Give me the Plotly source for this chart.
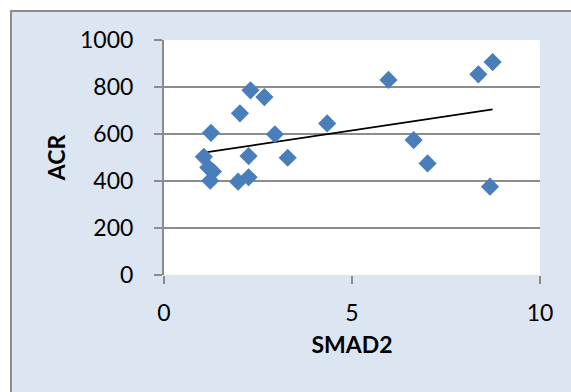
import numpy as np
import plotly.graph_objects as go

smad2 = [1.06, 1.25, 1.18, 1.30, 1.23, 1.97, 2.25, 2.25, 2.02, 2.30, 2.67, 2.95, 3.29, 4.34,
         5.97, 8.36, 8.74, 6.64, 7.01, 8.67]
acr = [503, 605, 457, 440, 401, 397, 416, 506, 688, 786, 757, 599, 499, 645,
       830, 854, 906, 574, 475, 376]
x_ticks = [0, 5, 10]
y_ticks = [0, 200, 400, 600, 800, 1000]

xs = np.array(smad2)
ys = np.array(acr)
slope, intercept = np.polyfit(xs, ys, 1)
trend_x = [xs.min(), xs.max()]
trend_y = [slope * v + intercept for v in trend_x]

FONT = "Lato"
fig = go.Figure()
fig.add_trace(go.Scatter(x=trend_x, y=trend_y, mode="lines",
                         line=dict(color="black", width=1.6), hoverinfo="skip"))
fig.add_trace(go.Scatter(x=smad2, y=acr, mode="markers",
                         marker=dict(symbol="diamond", size=14, color="#4A7EBB",
                                     line=dict(width=0))))

L, R, T, B = 164, 31, 40, 117
W, H = 571, 392
pw, ph = W - L - R, H - T - B

fig.add_shape(type="rect", xref="paper", yref="paper", layer="below",
              x0=(11 - L) / pw, x1=(W + 10 - L) / pw,
              y0=-(H + 10 - (H - B)) / ph, y1=(H - B - 11) / ph,
              fillcolor="#DCE6F2", line=dict(color="#8C8C8C", width=2))
fig.add_shape(type="rect", xref="paper", yref="paper", layer="below",
              x0=0, x1=1, y0=0, y1=1, fillcolor="white", line=dict(width=0))

fig.update_layout(
    width=W, height=H, margin=dict(l=L, r=R, t=T, b=B),
    paper_bgcolor="white", plot_bgcolor="rgba(0,0,0,0)",
    showlegend=False,
    font=dict(family=FONT, size=23, color="black"),
)
fig.update_xaxes(range=[0, 10], tickvals=x_ticks, showgrid=False, zeroline=False,
                 showline=False, ticks="outside", ticklen=8, tickwidth=2, tickcolor="#8C8C8C",
                 ticklabelstandoff=9,
                 title=dict(text="<b>SMAD2</b>", font=dict(family=FONT, size=23), standoff=12))
fig.update_yaxes(range=[0, 1000], tickvals=y_ticks, showgrid=True, gridcolor="#8C8C8C",
                 gridwidth=2, zeroline=False, showline=True, linecolor="#8C8C8C", linewidth=2,
                 ticks="outside", ticklen=8, tickwidth=2, tickcolor="#8C8C8C",
                 ticklabelstandoff=16,
                 title=dict(text="<b>ACR</b>", font=dict(family=FONT, size=23), standoff=8))

fig.write_html("out.html")
